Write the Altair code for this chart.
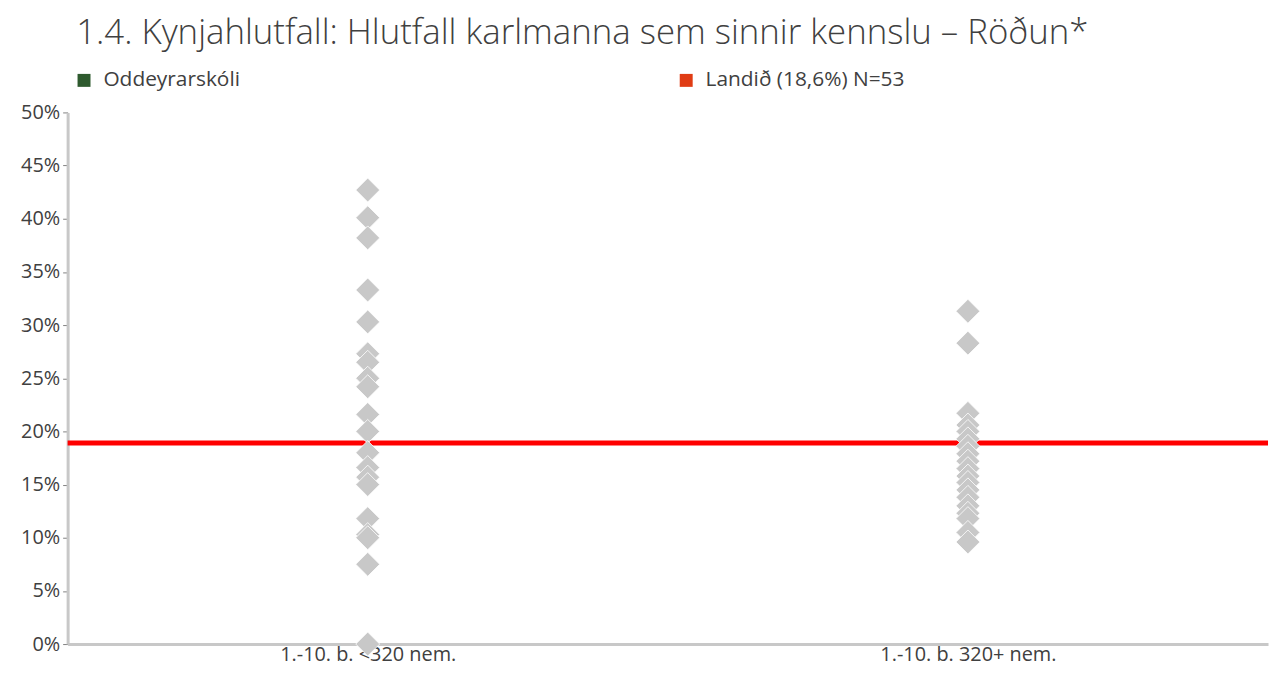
import altair as alt
import pandas as pd

# ---- data ----
categories = ["1.-10. b. <320 nem.", "1.-10. b. 320+ nem."]
small_schools = [42.7, 40.1, 38.2, 33.3, 30.3, 27.3, 26.5, 25.0, 24.2, 21.6,
                 20.0, 18.0, 16.6, 15.7, 15.0, 11.8, 10.3, 10.0, 7.5, 0.0]
large_schools = [31.3, 28.3, 21.7, 20.6, 20.0, 19.3, 18.6, 17.9, 17.2, 16.5,
                 15.8, 15.2, 14.5, 13.8, 13.0, 12.3, 11.8, 10.5, 9.6]
landid_value = 18.9
series_names = ["Oddeyrarskóli", "Landið (18,6%) N=53", "Aðrir skólar"]
series_colors = ["#2E5A2E", "#E03C14", "#C8C8C8"]
y_ticks = [0, 5, 10, 15, 20, 25, 30, 35, 40, 45, 50]

rows = []
for v in small_schools:
    rows.append({"flokkur": categories[0], "hlutfall": v / 100, "rod": series_names[2]})
for v in large_schools:
    rows.append({"flokkur": categories[1], "hlutfall": v / 100, "rod": series_names[2]})
points_df = pd.DataFrame(rows)
line_df = pd.DataFrame({"hlutfall": [landid_value / 100]})

FONT = "Open Sans"
TXT = "#404040"

y_scale = alt.Scale(domain=[0, 0.5], nice=False)

rule = alt.Chart(line_df).mark_rule(color="#FF0000", strokeWidth=5).encode(
    y=alt.Y("hlutfall:Q", scale=y_scale)
)

points = alt.Chart(points_df).mark_point(
    shape="diamond", filled=True, size=580, opacity=1,
    stroke="white", strokeWidth=0.8
).encode(
    x=alt.X("flokkur:N", sort=categories, title=None,
            scale=alt.Scale(paddingInner=0, paddingOuter=0),
            axis=alt.Axis(labelAngle=0, ticks=False, labelFontSize=20,
                          labelFont=FONT, labelColor=TXT, labelPadding=1,
                          domainColor="#C8C8C8", domainWidth=3)),
    y=alt.Y("hlutfall:Q", scale=y_scale, title=None,
            axis=alt.Axis(values=[t / 100 for t in y_ticks], format=".0%",
                          labelFontSize=20, labelFont=FONT, labelColor=TXT,
                          grid=False, tickColor="#808080", tickSize=5,
                          domainColor="#C8C8C8", domainWidth=3, labelPadding=3)),
    color=alt.Color("rod:N",
                    scale=alt.Scale(domain=series_names, range=series_colors),
                    legend=alt.Legend(values=series_names[:2], title=None,
                                      orient="none", legendX=6, legendY=-43,
                                      direction="horizontal", symbolType="square",
                                      symbolSize=170, symbolStrokeWidth=0,
                                      labelFontSize=21, labelFont=FONT,
                                      labelColor=TXT, columnPadding=438,
                                      labelLimit=400, labelOffset=9))
)

chart = alt.layer(rule, points).properties(
    width=1271, height=659,
    autosize=alt.AutoSizeParams(type="fit", contains="padding"),
    padding={"left": 12, "right": 0, "top": 6, "bottom": 0},
    title=alt.TitleParams(
        "1.4. Kynjahlutfall: Hlutfall karlmanna sem sinnir kennslu – Röðun*",
        anchor="start", fontSize=35, font=FONT, fontWeight=300, color=TXT,
        offset=52, dx=56
    )
).configure_view(stroke=None)

chart.save("out.html", embed_options={"renderer": "svg", "actions": False})
